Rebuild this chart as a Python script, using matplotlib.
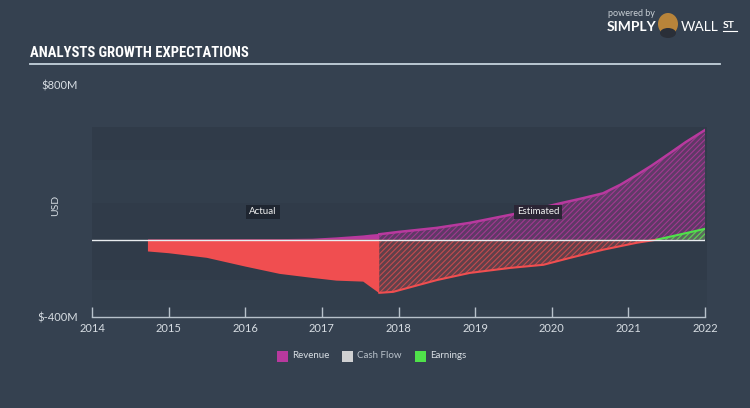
import os
import matplotlib
matplotlib.use("Agg")
import matplotlib.pyplot as plt
import numpy as np
from matplotlib import font_manager
from matplotlib.font_manager import FontProperties
from matplotlib.patches import Rectangle, Ellipse

# ---------------- data (USD millions) ----------------
actual_years = [2014.73, 2015.0, 2015.5, 2016.0, 2016.45, 2016.88, 2017.19, 2017.54, 2017.63, 2017.75]
actual_earnings = [-61, -70, -94, -139, -177, -198, -212, -217, -243, -277]
actual_revenue = [2, 2, 2, 3, 3, 5, 12, 22, 26, 30]

est_rev_years = [2017.75, 2018.0, 2018.5, 2018.93, 2019.59, 2020.11, 2020.4, 2020.67, 2020.9, 2021.11,
                 2021.3, 2021.54, 2021.75, 2022.0]
est_revenue = [28, 40, 61, 87, 139, 188, 214, 240, 285, 335, 382, 447, 505, 567]

est_earn_years = [2017.75, 2017.93, 2018.5, 2018.93, 2019.46, 2019.89, 2020.24, 2020.67, 2021.11, 2021.37, 2022.0]
est_earnings = [-275, -270, -209, -172, -146, -130, -94, -52, -16, 0, 56]

year_ticks = [2014, 2015, 2016, 2017, 2018, 2019, 2020, 2021, 2022]
y_ticks = [-400, 800]
y_tick_labels = ["$-400M", "$800M"]
legend_labels = ["Revenue", "Cash Flow", "Earnings"]

# ---------------- style ----------------
BG = "#354150"
REV = "#b8399e"
CF = "#cfd0d2"
EARN_NEG = "#f04e50"
EARN_POS = "#4fe24a"
TXT = "#d7dde3"

avail = {f.name for f in font_manager.fontManager.ttflist}
base_font = "Lato" if "Lato" in avail else "DejaVu Sans"
plt.rcParams["font.family"] = [base_font, "DejaVu Sans"]
plt.rcParams["hatch.linewidth"] = 0.8


def find_font(patterns):
    files = [f.fname for f in font_manager.fontManager.ttflist]
    for p in patterns:
        for fn in files:
            b = os.path.basename(fn).replace("-", "").replace("_", "").lower()
            if b.startswith(p.lower()):
                return fn, p
    return None, None


title_file, title_kind = find_font(["NotoSansExtraCondensedBold", "NotoSansCondensedBold",
                                    "RobotoCondensedBold", "OpenSansCondensedBold",
                                    "DejaVuSansCondensedBold", "LiberationSansNarrowBold"])

fig = plt.figure(figsize=(7.5, 4.08), dpi=100, facecolor=BG)
W, H = 750, 408
ax = fig.add_axes([92 / W, 1 - 317 / H, 613 / W, 232 / H])
ax.set_facecolor("none")
ax.set_xlim(2014, 2022)
ax.set_ylim(-400, 800)


def py2v(py):
    return (239.7 - py) / (232 / 1200)


bands = [(127, 160, "#303b49"), (160, 203, "#323e4c"), (203, 280, "#303b49"), (280, 310, "#323e4c")]
for top, bot, c in bands:
    ax.add_patch(Rectangle((2014, py2v(bot)), 8.02, py2v(top) - py2v(bot), facecolor=c,
                           edgecolor="none", zorder=0, clip_on=False))

# zero line
ax.plot([2014, 2022], [0, 0], color="#e8ecef", lw=1.0, zorder=6)

# actual: solid fills
ax.fill_between(actual_years, 0, actual_revenue, facecolor=REV, edgecolor="none", zorder=3)
ax.fill_between(actual_years, 0, actual_earnings, facecolor=EARN_NEG, edgecolor="none", zorder=3)

# estimated revenue: hatched
ax.fill_between(est_rev_years, 0, est_revenue, facecolor=(0.72, 0.22, 0.62, 0.35),
                edgecolor=(0.72, 0.22, 0.62, 0.75), hatch="//////", linewidth=0, zorder=2)
ax.plot(est_rev_years, est_revenue, color=REV, lw=1.8, zorder=5)

# estimated earnings: hatched, red below zero, green above
ey = np.array(est_earn_years)
ee = np.array(est_earnings, dtype=float)
ax.fill_between(ey, 0, ee, where=ee <= 0, interpolate=True, facecolor=(0.94, 0.31, 0.31, 0.25),
                edgecolor=(0.94, 0.31, 0.31, 0.7), hatch="//////", linewidth=0, zorder=4)
ax.fill_between(ey, 0, ee, where=ee >= 0, interpolate=True, facecolor=(0.31, 0.89, 0.29, 0.3),
                edgecolor=(0.31, 0.89, 0.29, 0.9), hatch="//////", linewidth=0, zorder=4)
neg = ee <= 0
ax.plot(ey[neg], ee[neg], color=EARN_NEG, lw=1.5, zorder=5)
pos = ee >= 0
ax.plot(ey[pos], ee[pos], color=EARN_POS, lw=1.5, zorder=5)

# axes styling
for s in ["top", "right", "left"]:
    ax.spines[s].set_visible(False)
ax.spines["bottom"].set_color("#b8c2cc")
ax.spines["bottom"].set_linewidth(1.0)
ax.set_xticks(year_ticks)
ax.set_xticklabels([str(y) for y in year_ticks])
ax.tick_params(axis="x", direction="in", length=7, width=1, color="#b8c2cc",
               labelcolor=TXT, labelsize=8, pad=4)
ax.set_yticks(y_ticks)
ax.set_yticklabels(y_tick_labels)
ax.tick_params(axis="y", length=0, labelcolor=TXT, labelsize=8, pad=10)
ax.set_ylabel("USD", color=TXT, fontsize=7.5)
ax.yaxis.set_label_coords(-32 / 613, (317 - 205) / 232)

# Actual / Estimated labels
ax.text(2016.23, py2v(212), "Actual", color="#f0f0f0", fontsize=7, ha="center", va="center", zorder=8,
        bbox=dict(boxstyle="square,pad=0.3", facecolor="#1f2631", edgecolor="none"))
ax.text(2019.82, py2v(212), "Estimated", color="#f0f0f0", fontsize=7, ha="center", va="center", zorder=8,
        bbox=dict(boxstyle="square,pad=0.3", facecolor="#2b2535", edgecolor="none"))

# title and underline
if title_file:
    size = 11.5 if "Extra" in title_kind else 10.5
    fp = FontProperties(fname=title_file, size=size)
    fig.text(30 / W, 1 - 53 / H, "ANALYSTS GROWTH EXPECTATIONS", color="white", fontproperties=fp,
             ha="left", va="center")
else:
    fig.text(30 / W, 1 - 53 / H, "ANALYSTS GROWTH EXPECTATIONS", color="white", fontsize=9,
             fontweight="bold", family=["Roboto", "DejaVu Sans"], ha="left", va="center")
fig.add_artist(plt.Line2D([30 / W, 720 / W], [1 - 64 / H, 1 - 64 / H], color="#c5d2dc", lw=1.3))

# logo
fig.text(608 / W, 1 - 14 / H, "powered by", color="#c9d0d6", fontsize=6.5, ha="left", va="center")
fig.text(607 / W, 1 - 27 / H, "SIMPLY", color="white", fontsize=10, fontweight="bold", ha="left", va="center")
fig.add_artist(Ellipse((668 / W, 1 - 24 / H), 20 / W, 22 / H, transform=fig.transFigure,
                       facecolor="#b8843a", edgecolor="none"))
fig.add_artist(Ellipse((668 / W, 1 - 33 / H), 16 / W, 10 / H, transform=fig.transFigure,
                       facecolor="#2a2f38", edgecolor="none"))
fig.text(681 / W, 1 - 27 / H, "WALL", color="white", fontsize=10, ha="left", va="center")
fig.text(723 / W, 1 - 25 / H, "ST", color="white", fontsize=7.5, fontweight="bold", ha="left", va="center")
fig.add_artist(plt.Line2D([723 / W, 737 / W], [1 - 31 / H, 1 - 31 / H], color="white", lw=0.8))

# legend
leg_items = [(REV, legend_labels[0], 277), (CF, legend_labels[1], 342), (EARN_POS, legend_labels[2], 415)]
for c, lab, px in leg_items:
    fig.add_artist(Rectangle((px / W, 1 - 362 / H), 11 / W, 11 / H, transform=fig.transFigure,
                             facecolor=c, edgecolor="none"))
    fig.text((px + 15) / W, 1 - 356 / H, lab, color=TXT if lab != "Cash Flow" else "#b9c2cb",
             fontsize=7, ha="left", va="center")

fig.savefig("out.png", dpi=100, facecolor=BG)
